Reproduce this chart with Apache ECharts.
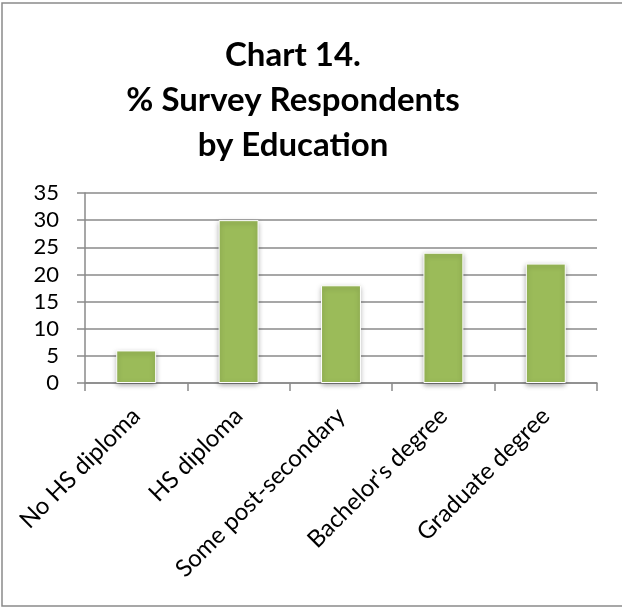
<!DOCTYPE html>
<html>
<head>
<meta charset="utf-8">
<script src="https://cdn.jsdelivr.net/npm/echarts@6/dist/echarts.min.js"></script>
<style>
  html, body { margin: 0; padding: 0; background: #fff; }
  #chart { width: 622px; height: 607px; }
</style>
</head>
<body>
<div id="chart"></div>
<script>
// Education categories and share of respondents (%)
const categories = ['No HS diploma', 'HS diploma', 'Some post-secondary', "Bachelor's degree", 'Graduate degree'];
const percentValues = [6, 30, 18, 24, 22];
const yTicks = { min: 0, max: 35, step: 5 };
const titleLines = ['Chart 14.', '% Survey Respondents', 'by Education'];

const FONT = 'Lato, "Open Sans", sans-serif';
const chart = echarts.init(document.getElementById('chart'));

chart.setOption({
  backgroundColor: '#ffffff',
  animation: false,
  graphic: [{
    type: 'rect',
    shape: { x: 2, y: 3, width: 640, height: 603 },
    style: { fill: 'none', stroke: '#8a8a8a', lineWidth: 1.5 },
    silent: true
  }],
  title: {
    text: titleLines.join('\n'),
    left: 288,
    top: 28,
    textAlign: 'center',
    textStyle: {
      fontFamily: FONT,
      fontWeight: 'bold',
      fontSize: 33,
      lineHeight: 45,
      color: '#000'
    }
  },
  grid: { left: 85, right: 25, top: 193, bottom: 224, containLabel: false },
  xAxis: {
    type: 'category',
    data: categories,
    axisLine: { lineStyle: { color: '#8a8a8a', width: 1.5 } },
    axisTick: { show: true, length: 8, lineStyle: { color: '#8a8a8a', width: 1.5 } },
    axisLabel: {
      rotate: 45,
      interval: 0,
      margin: 29,
      fontFamily: FONT,
      fontSize: 24,
      color: '#000'
    }
  },
  yAxis: {
    type: 'value',
    min: yTicks.min,
    max: yTicks.max,
    interval: yTicks.step,
    axisLine: { show: true, lineStyle: { color: '#8a8a8a', width: 1.5 } },
    axisTick: { show: true, length: 8, lineStyle: { color: '#8a8a8a', width: 1.5 } },
    splitLine: { lineStyle: { color: '#8a8a8a', width: 1.5 } },
    axisLabel: {
      margin: 26,
      fontFamily: FONT,
      fontSize: 22,
      color: '#000'
    }
  },
  series: [{
    type: 'bar',
    data: percentValues,
    barWidth: '39%',
    itemStyle: {
      color: '#9bbb59',
      borderColor: '#ffffff',
      borderWidth: 1,
      shadowBlur: 5,
      shadowColor: 'rgba(0,0,0,0.35)',
      shadowOffsetY: 2
    }
  }]
});
</script>
</body>
</html>
